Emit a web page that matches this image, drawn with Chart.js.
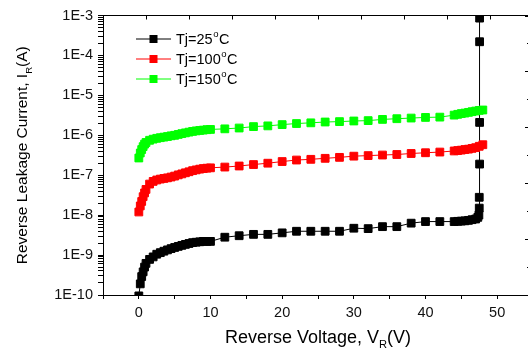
<!DOCTYPE html>
<html>
<head>
<meta charset="utf-8">
<script src="https://cdn.jsdelivr.net/npm/chart.js@4.4.1/dist/chart.umd.min.js"></script>
<style>
  html, body { margin: 0; padding: 0; background: #fff; overflow: hidden; }
</style>
</head>
<body>
<canvas id="leakage" width="540" height="348"></canvas>
<script>
// reverse leakage vs reverse voltage, three junction temperatures
const v25 = [0, 0.2, 0.4, 0.6, 0.8, 1, 1.5, 2, 2.5, 3, 3.5, 4, 4.5, 5, 5.5, 6, 6.5, 7, 7.5, 8, 8.5, 9, 9.5, 10,
  12, 14, 16, 18, 20, 22, 24, 26, 28, 30, 32, 34, 36, 38, 40, 42,
  44, 44.5, 45, 45.5, 46, 46.5, 47, 47.3, 47.45, 47.5, 47.5, 47.55, 47.55, 47.55, 47.55];
const i25 = [9.5e-11, 1.9e-10, 2.9e-10, 3.8e-10, 5.0e-10, 6.2e-10, 7.8e-10, 9.0e-10, 1.05e-9, 1.15e-9, 1.25e-9, 1.35e-9, 1.45e-9, 1.55e-9, 1.65e-9, 1.75e-9, 1.85e-9, 1.95e-9, 2.05e-9, 2.1e-9, 2.15e-9, 2.2e-9, 2.2e-9, 2.2e-9,
  2.8e-9, 3.05e-9, 3.3e-9, 3.3e-9, 3.6e-9, 3.95e-9, 3.95e-9, 3.95e-9, 3.95e-9, 4.7e-9, 4.6e-9, 5.15e-9, 5.15e-9, 6.3e-9, 6.9e-9, 6.9e-9,
  6.9e-9, 7.0e-9, 7.1e-9, 7.2e-9, 7.4e-9, 7.7e-9, 8.0e-9, 8.8e-9, 1.0e-8, 1.5e-8, 2.8e-8, 1.9e-7, 2.1e-6, 2.2e-4, 8.6e-4];

const v100 = [0, 0.2, 0.4, 0.6, 0.8, 1, 1.5, 2, 2.5, 3, 3.5, 4, 4.5, 5, 5.5, 6, 6.5, 7, 7.5, 8, 8.5, 9, 9.5, 10,
  12, 14, 16, 18, 20, 22, 24, 26, 28, 30, 32, 34, 36, 38, 40, 42,
  44, 44.5, 45, 45.5, 46, 46.5, 47, 47.5, 48];
const i100 = [1.2e-8, 1.7e-8, 2.2e-8, 2.9e-8, 3.6e-8, 4.4e-8, 6.0e-8, 7.0e-8, 7.6e-8, 8.0e-8, 8.3e-8, 8.6e-8, 9.0e-8, 9.5e-8, 1.02e-7, 1.08e-7, 1.15e-7, 1.22e-7, 1.3e-7, 1.36e-7, 1.42e-7, 1.47e-7, 1.5e-7, 1.53e-7,
  1.6e-7, 1.7e-7, 1.85e-7, 2.0e-7, 2.2e-7, 2.4e-7, 2.5e-7, 2.65e-7, 2.8e-7, 3.0e-7, 3.1e-7, 3.2e-7, 3.3e-7, 3.5e-7, 3.65e-7, 3.8e-7,
  4.05e-7, 4.15e-7, 4.25e-7, 4.4e-7, 4.5e-7, 4.7e-7, 4.9e-7, 5.3e-7, 5.8e-7];

const v150 = v100;
const i150 = [2.7e-7, 3.6e-7, 4.4e-7, 5.2e-7, 6.0e-7, 6.6e-7, 7.5e-7, 8.0e-7, 8.4e-7, 8.7e-7, 9.0e-7, 9.3e-7, 9.7e-7, 1.0e-6, 1.05e-6, 1.1e-6, 1.15e-6, 1.2e-6, 1.25e-6, 1.29e-6, 1.32e-6, 1.35e-6, 1.38e-6, 1.4e-6,
  1.45e-6, 1.52e-6, 1.65e-6, 1.72e-6, 1.85e-6, 1.97e-6, 2.05e-6, 2.15e-6, 2.2e-6, 2.28e-6, 2.33e-6, 2.5e-6, 2.6e-6, 2.7e-6, 2.8e-6, 2.85e-6,
  3.2e-6, 3.35e-6, 3.5e-6, 3.6e-6, 3.75e-6, 3.9e-6, 4.05e-6, 4.2e-6, 4.3e-6];

const seriesTemps = ['25', '100', '150'];
const seriesColors = ['#000000', '#ff0000', '#00ff00'];

const yDecades = [-10, -9, -8, -7, -6, -5, -4, -3];
const yTickLabels = ['1E-10', '1E-9', '1E-8', '1E-7', '1E-6', '1E-5', '1E-4', '1E-3'];
const xTickLabels = ['0', '10', '20', '30', '40', '50'];

const xTitle = ['Reverse Voltage, V', 'R', '(V)'];
const yTitle = ['Reverse Leakage Current, I', 'R', '(A)'];

const FONT = "'Liberation Sans', Arial, sans-serif";

function pts(xs, ys) {
  return xs.map((x, k) => ({ x: x, y: ys[k] }));
}

// text with a subscript (or superscript) middle part
function drawScripted(ctx, parts, x, y, size, shift) {
  const small = size * 0.62;
  const widths = parts.map((p, k) => {
    ctx.font = (k === 1 ? small : size) + 'px ' + FONT;
    return ctx.measureText(p).width;
  });
  const total = widths.reduce((a, b) => a + b, 0);
  let cx = x - total / 2;
  parts.forEach((p, k) => {
    ctx.font = (k === 1 ? small : size) + 'px ' + FONT;
    ctx.fillText(p, cx, k === 1 ? y + shift : y);
    cx += widths[k];
  });
}

const axisTitles = {
  id: 'axisTitles',
  afterDraw(chart) {
    const { ctx, chartArea } = chart;
    ctx.save();
    ctx.fillStyle = '#000';
    ctx.textAlign = 'left';
    ctx.textBaseline = 'alphabetic';
    drawScripted(ctx, xTitle, (chartArea.left + chartArea.right) / 2, 343, 18, 5);
    ctx.translate(27, (chartArea.top + chartArea.bottom) / 2);
    ctx.rotate(-Math.PI / 2);
    drawScripted(ctx, yTitle, 0, 0, 15.5, 4.5);
    ctx.restore();
  }
};

const innerLegend = {
  id: 'innerLegend',
  afterDraw(chart) {
    const { ctx, chartArea } = chart;
    ctx.save();
    chart.data.datasets.forEach((ds, k) => {
      const y = chartArea.top + 23 + k * 20;
      const x0 = chartArea.left + 33;
      ctx.strokeStyle = ds.borderColor;
      ctx.lineWidth = 1;
      ctx.beginPath();
      ctx.moveTo(x0, y + 0.5);
      ctx.lineTo(x0 + 35, y + 0.5);
      ctx.stroke();
      ctx.fillStyle = ds.borderColor;
      ctx.fillRect(x0 + 13.5, y - 3.5, 8, 8);
      ctx.fillStyle = '#000';
      ctx.textBaseline = 'middle';
      ctx.textAlign = 'left';
      let tx = x0 + 40;
      ctx.font = '14.5px ' + FONT;
      const main = 'Tj=' + seriesTemps[k];
      ctx.fillText(main, tx, y + 1);
      tx += ctx.measureText(main).width + 0.5;
      ctx.font = '9.5px ' + FONT;
      ctx.fillText('o', tx, y - 4);
      tx += ctx.measureText('o').width + 0.5;
      ctx.font = '14.5px ' + FONT;
      ctx.fillText('C', tx, y + 1);
    });
    ctx.restore();
  }
};

// top and right axes have their ticks pointing into the plot
const innerTicks = {
  id: 'innerTicks',
  afterDraw(chart) {
    const { ctx, chartArea } = chart;
    const top = chart.scales.x2;
    const right = chart.scales.y2;
    ctx.save();
    ctx.strokeStyle = '#000';
    ctx.lineWidth = 1;
    ctx.beginPath();
    top.ticks.forEach(t => {
      const px = Math.round(top.getPixelForValue(t.value)) + 0.5;
      ctx.moveTo(px, chartArea.top);
      ctx.lineTo(px, chartArea.top + 4);
    });
    right.ticks.forEach(t => {
      const py = Math.round(right.getPixelForValue(t.value)) + 0.5;
      const len = t.value % 2 === 0 ? 8 : 6;
      ctx.moveTo(chartArea.right, py);
      ctx.lineTo(chartArea.right - len, py);
    });
    ctx.stroke();
    ctx.restore();
  }
};

const ctx = document.getElementById('leakage').getContext('2d');
const leakageChart = new Chart(ctx, {
  type: 'line',
  data: {
    datasets: [
      { label: 'Tj=25', data: pts(v25, i25), order: 2 },
      { label: 'Tj=100', data: pts(v100, i100), order: 1 },
      { label: 'Tj=150', data: pts(v150, i150), order: 1 }
    ].map((ds, k) => Object.assign(ds, {
      borderColor: seriesColors[k],
      backgroundColor: seriesColors[k],
      borderWidth: 1,
      pointStyle: 'rect',
      pointRadius: 5.5,
      pointBorderWidth: 1,
      tension: 0
    }))
  },
  options: {
    responsive: false,
    animation: false,
    layout: {
      padding: { top: 15.5, right: 7, left: 0, bottom: 0 }
    },
    plugins: {
      legend: { display: false },
      tooltip: { enabled: false }
    },
    scales: {
      x: {
        type: 'linear',
        position: 'bottom',
        min: -5,
        max: 55,
        afterFit: s => { s.height = 53; },
        grid: { drawOnChartArea: false, drawTicks: true, tickLength: 4, color: '#000' },
        border: { display: true, color: '#000', width: 1 },
        ticks: {
          stepSize: 5,
          autoSkip: false,
          maxRotation: 0,
          padding: 5,
          color: '#111',
          font: { family: FONT, size: 14.5 },
          callback: v => {
            const k = xTickLabels.indexOf(String(v));
            return k >= 0 ? xTickLabels[k] : '';
          }
        }
      },
      y: {
        type: 'logarithmic',
        position: 'left',
        min: 1e-10,
        max: 1e-3,
        afterFit: s => { s.width = 103; },
        afterBuildTicks: s => {
          const list = [];
          yDecades.forEach(e => {
            for (let m = 1; m <= 9; m++) {
              if (e === yDecades[yDecades.length - 1] && m > 1) break;
              list.push({ value: m * Math.pow(10, e), major: m === 1 });
            }
          });
          s.ticks = list;
        },
        grid: { drawOnChartArea: false, drawTicks: true, tickLength: 5, color: '#000' },
        border: { display: true, color: '#000', width: 1 },
        ticks: {
          autoSkip: false,
          padding: 5,
          color: '#111',
          font: { family: FONT, size: 14.5 },
          callback: (v, idx, ticks) => {
            if (!ticks[idx].major) return '';
            const e = Math.round(Math.log10(v));
            return yTickLabels[yDecades.indexOf(e)];
          }
        }
      },
      x2: {
        type: 'linear',
        position: 'top',
        min: -1,
        max: 9,
        afterFit: s => { s.height = 0; },
        grid: { drawOnChartArea: false, drawTicks: false },
        border: { display: true, color: '#000', width: 1 },
        ticks: { display: false, stepSize: 1 }
      },
      y2: {
        type: 'linear',
        position: 'right',
        min: 0,
        max: 10,
        afterFit: s => { s.width = 0; },
        grid: { drawOnChartArea: false, drawTicks: false },
        border: { display: true, color: '#000', width: 1 },
        ticks: { display: false, stepSize: 1 }
      }
    }
  },
  plugins: [axisTitles, innerLegend, innerTicks]
});
</script>
</body>
</html>
